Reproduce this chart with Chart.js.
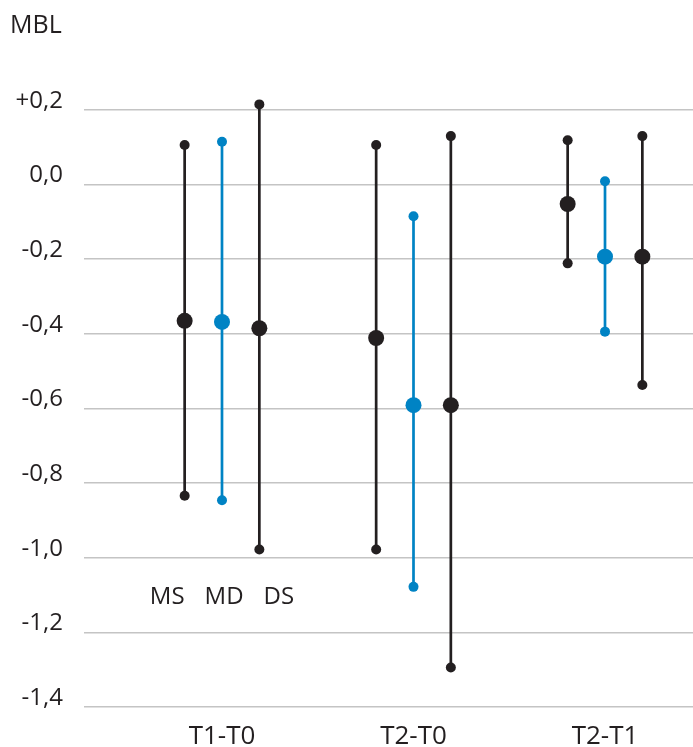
<!DOCTYPE html>
<html>
<head>
<meta charset="utf-8">
<script src="https://cdn.jsdelivr.net/npm/chart.js@4"></script>
<style>
  body { margin: 0; background: #fff; }
</style>
</head>
<body>
<canvas id="mblChart" width="693" height="747"></canvas>
<script>
// カテゴリとシリーズ
var categories = ["T1-T0", "T2-T0", "T2-T1"];
var seriesNames = ["MS", "MD", "DS"];

// 平均値と上下の値
var msMean = [-0.365, -0.411, -0.052];
var msHigh = [0.106, 0.106, 0.119];
var msLow = [-0.834, -0.978, -0.211];

var mdMean = [-0.368, -0.591, -0.193];
var mdHigh = [0.115, -0.085, 0.009];
var mdLow = [-0.846, -1.078, -0.394];

var dsMean = [-0.385, -0.591, -0.193];
var dsHigh = [0.215, 0.130, 0.130];
var dsLow = [-0.978, -1.294, -0.537];

// 目盛り
var yTicks = [0.2, 0, -0.2, -0.4, -0.6, -0.8, -1.0, -1.2, -1.4];

var BLACK = "#231f20";
var BLUE = "#0083c4";
var FONT = "'Open Sans', 'Noto Sans', sans-serif";
var shift = 0.195; // カテゴリ内の横ずれ

// 縦線用のデータ（nullで線を切る）
function rangeData(high, low, k) {
  var out = [];
  for (var i = 0; i < categories.length; i++) {
    var x = i + (k - 1) * shift;
    out.push({ x: x, y: high[i] });
    out.push({ x: x, y: low[i] });
    out.push({ x: x, y: null });
  }
  return out;
}

function meanData(mean, k) {
  return mean.map(function (v, i) { return { x: i + (k - 1) * shift, y: v }; });
}

function rangeSet(high, low, k, color) {
  return {
    type: "line",
    data: rangeData(high, low, k),
    borderColor: color,
    backgroundColor: color,
    borderWidth: 2.7,
    pointRadius: 5,
    pointBorderWidth: 0,
    spanGaps: false,
    clip: false,
    order: 2
  };
}

function meanSet(mean, k, color) {
  return {
    type: "scatter",
    data: meanData(mean, k),
    backgroundColor: color,
    borderColor: color,
    pointRadius: 8,
    pointBorderWidth: 0,
    clip: false,
    order: 1
  };
}

// MBLとシリーズ名のテキスト
var textPlugin = {
  id: "texts",
  afterDraw: function (chart) {
    var ctx = chart.ctx;
    ctx.save();
    ctx.fillStyle = BLACK;
    ctx.textBaseline = "middle";
    ctx.textAlign = "left";
    ctx.font = "25px " + FONT;
    ctx.fillText("MBL", 10, 26);

    ctx.font = "24px " + FONT;
    var xs = chart.scales.x, ys = chart.scales.y;
    var gap = 20;
    var widths = seriesNames.map(function (s) { return ctx.measureText(s).width; });
    var total = widths.reduce(function (a, b) { return a + b; }, 0) + gap * (seriesNames.length - 1);
    var x = xs.getPixelForValue(0) - total / 2;
    var y = ys.getPixelForValue(-1.106);
    for (var i = 0; i < seriesNames.length; i++) {
      ctx.fillText(seriesNames[i], x, y);
      x += widths[i] + gap;
    }
    ctx.restore();
  }
};

var ctx = document.getElementById("mblChart");
var myChart = new Chart(ctx, {
  type: "scatter",
  data: {
    datasets: [
      rangeSet(msHigh, msLow, 0, BLACK),
      rangeSet(mdHigh, mdLow, 1, BLUE),
      rangeSet(dsHigh, dsLow, 2, BLACK),
      meanSet(msMean, 0, BLACK),
      meanSet(mdMean, 1, BLUE),
      meanSet(dsMean, 2, BLACK)
    ]
  },
  options: {
    responsive: false,
    animation: false,
    layout: { autoPadding: false, padding: { top: 98.8, left: 0, right: 0, bottom: 0 } },
    plugins: {
      legend: { display: false },
      tooltip: { enabled: false }
    },
    scales: {
      x: {
        type: "linear",
        min: -0.7206,
        max: 2.4595,
        grid: { display: false },
        border: { display: false },
        afterBuildTicks: function (scale) {
          scale.ticks = categories.map(function (c, i) { return { value: i }; });
        },
        afterFit: function (scale) {
          scale.height = 40;
          scale.paddingLeft = 0;
          scale.paddingRight = 0;
        },
        ticks: {
          padding: 6,
          color: BLACK,
          font: { family: FONT, size: 26 },
          callback: function (v) { return categories[v]; }
        }
      },
      y: {
        min: -1.4,
        max: 0.23,
        afterBuildTicks: function (scale) {
          scale.ticks = yTicks.map(function (v) { return { value: v }; });
        },
        afterFit: function (scale) { scale.width = 84; },
        grid: { color: "#c4c4c4", lineWidth: 1.5, drawTicks: false },
        border: { display: false },
        ticks: {
          padding: 21,
          labelOffset: -9,
          color: BLACK,
          font: { family: FONT, size: 24 },
          callback: function (v) {
            var s = Math.abs(v).toFixed(1).replace(".", ",");
            if (v > 0.001) return "+" + s;
            if (v < -0.001) return "-" + s;
            return s;
          }
        }
      }
    }
  },
  plugins: [textPlugin]
});
</script>
</body>
</html>
